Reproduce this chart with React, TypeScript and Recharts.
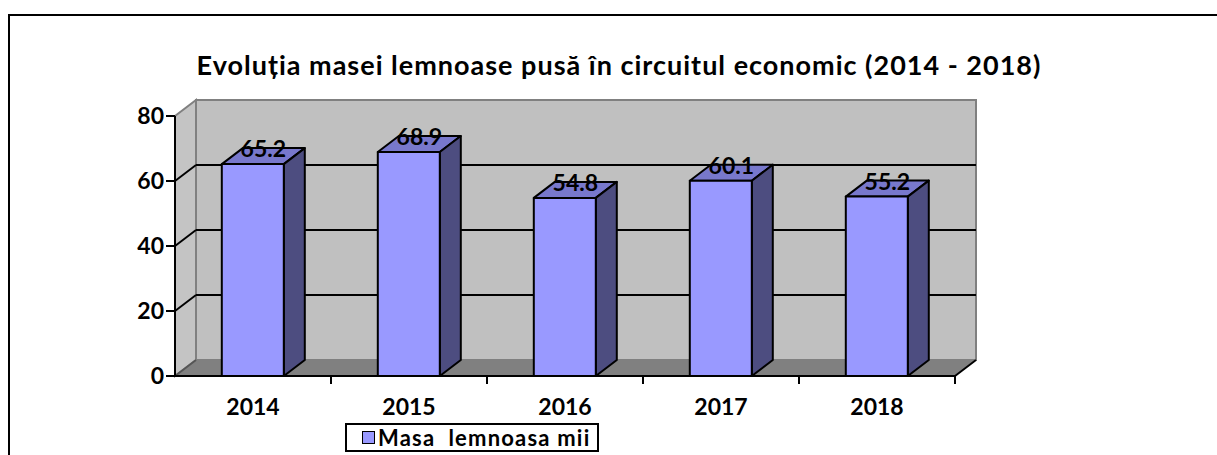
import { BarChart, Bar, XAxis, YAxis, ReferenceArea, ReferenceLine, LabelList, Legend } from "recharts";

const years = ["2014", "2015", "2016", "2017", "2018"];
const values = [65.2, 68.9, 54.8, 60.1, 55.2];
const yTicks = [0, 20, 40, 60, 80];
const gridValues = [20, 40, 60];
const seriesName = "Masa  lemnoasa mii";
const title = "Evoluția masei lemnoase pusă în circuitul economic (2014 - 2018)";

const data = years.map((year, i) => ({ year, value: values[i] }));

// 3d depth offset
const DX = 21;
const DY = -16;
const FONT = "Lato, 'Open Sans', sans-serif";

const Walls = (p: any) => {
  const { x, y, width: w, height: h } = p;
  const b = y + h;
  return (
    <g>
      <rect x={x + DX} y={y + DY} width={w} height={h} fill="#C0C0C0" stroke="#808080" strokeWidth={2} />
      <polygon
        points={`${x},${y} ${x + DX},${y + DY} ${x + DX},${b + DY} ${x},${b}`}
        fill="#C4C4C4"
        stroke="#808080"
        strokeWidth={2}
      />
      <polygon
        points={`${x},${b} ${x + DX},${b + DY} ${x + w + DX},${b + DY} ${x + w},${b}`}
        fill="#808080"
        stroke="#808080"
        strokeWidth={1}
      />
      <line x1={x} y1={b} x2={x + DX} y2={b + DY} stroke="#555" strokeWidth={2} />
      <line x1={x + w} y1={b} x2={x + w + DX} y2={b + DY} stroke="#000" strokeWidth={2} />
    </g>
  );
};

const GridLine = (p: any) => {
  const { x1, y1, x2 } = p;
  return (
    <g>
      <line x1={x1 + DX} y1={y1 + DY} x2={x2 + DX} y2={y1 + DY} stroke="#000" strokeWidth={2} />
      <line x1={x1} y1={y1} x2={x1 + DX} y2={y1 + DY} stroke="#000" strokeWidth={2} />
    </g>
  );
};

const Bar3D = (p: any) => {
  const { x, y, width: w, height: h } = p;
  if (h <= 0) return null;
  return (
    <g stroke="#000" strokeWidth={2} strokeLinejoin="round">
      <polygon points={`${x},${y} ${x + DX},${y + DY} ${x + w + DX},${y + DY} ${x + w},${y}`} fill="#7878CC" />
      <polygon
        points={`${x + w},${y} ${x + w + DX},${y + DY} ${x + w + DX},${y + h + DY} ${x + w},${y + h}`}
        fill="#4D4D80"
      />
      <rect x={x} y={y} width={w} height={h} fill="#9999FF" />
    </g>
  );
};

const XTick = (p: any) => {
  const { x, y, payload } = p;
  const half = payload?.offset ?? 0;
  return (
    <g>
      <line x1={x + half} y1={y - 8} x2={x + half} y2={y} stroke="#000" strokeWidth={2} />
      <text x={x} y={y + 31} textAnchor="middle" fontFamily={FONT} fontWeight="bold" fontSize={23} fill="#000">
        {payload.value}
      </text>
    </g>
  );
};

const ValueLabel = (p: any) => {
  const { x, y, width, value } = p;
  return (
    <text
      x={x + width / 2 + DX / 2}
      y={y - 7}
      textAnchor="middle"
      fontFamily={FONT}
      fontWeight="bold"
      fontSize={23}
      fill="#000"
    >
      {value}
    </text>
  );
};

const LegendBox = () => (
  <div
    style={{
      border: "2px solid #000",
      width: 250,
      height: 25,
      boxSizing: "content-box",
      display: "flex",
      alignItems: "center",
      fontFamily: FONT,
      fontWeight: "bold",
      fontSize: 22,
      letterSpacing: 1.2,
      whiteSpace: "pre",
      background: "#fff",
    }}
  >
    <span
      style={{
        display: "inline-block",
        width: 11,
        height: 11,
        background: "#9999FF",
        border: "1.5px solid #000",
        marginLeft: 15,
        marginRight: 3,
      }}
    />
    <span>{seriesName}</span>
  </div>
);

export default function App() {
  return (
    <div style={{ position: "absolute", left: 0, top: 0, width: 1217, height: 455, overflow: "hidden", background: "#fff" }}>
      <div
        style={{
          position: "absolute",
          left: 8,
          top: 14,
          width: 1300,
          height: 500,
          borderTop: "2px solid #000",
          borderLeft: "2px solid #000",
        }}
      />
      <div style={{ position: "absolute", left: 0, top: 0 }}>
        <BarChart
          width={1217}
          height={455}
          data={data}
          margin={{ top: 116, right: 262, bottom: 0, left: 115 }}
          barCategoryGap="30%"
        >
          <ReferenceArea y1={0} y2={80} shape={Walls} zIndex={-200} ifOverflow="visible" />
          {gridValues.map((v) => (
            <ReferenceLine key={v} y={v} shape={GridLine} zIndex={-150} ifOverflow="visible" />
          ))}
          <XAxis
            dataKey="year"
            height={79}
            tickLine={false}
            tickSize={8}
            tickMargin={0}
            axisLine={{ stroke: "#000", strokeWidth: 2 }}
            tick={XTick}
            interval={0}
          />
          <YAxis
            domain={[0, 80]}
            ticks={yTicks}
            width={60}
            tickSize={9}
            tickLine={{ stroke: "#000", strokeWidth: 2 }}
            axisLine={{ stroke: "#000", strokeWidth: 2 }}
            tick={{ fill: "#000", fontFamily: FONT, fontWeight: "bold", fontSize: 23 }}
            tickMargin={2}
          />
          <Legend
            layout="horizontal"
            verticalAlign="middle"
            align="center"
            content={LegendBox}
            wrapperStyle={{ position: "absolute", left: 345, top: 423, width: "auto", height: "auto" }}
          />
          <Bar dataKey="value" name={seriesName} shape={Bar3D} isAnimationActive={false}>
            <LabelList dataKey="value" content={ValueLabel} />
          </Bar>
        </BarChart>
      </div>
      <svg width={1217} height={455} style={{ position: "absolute", left: 0, top: 0, pointerEvents: "none" }}>
        <text
          x={619}
          y={75}
          textAnchor="middle"
          fontFamily={FONT}
          fontWeight="bold"
          fontSize={27}
          letterSpacing={1}
          fill="#000"
        >
          {title}
        </text>
      </svg>
    </div>
  );
}
